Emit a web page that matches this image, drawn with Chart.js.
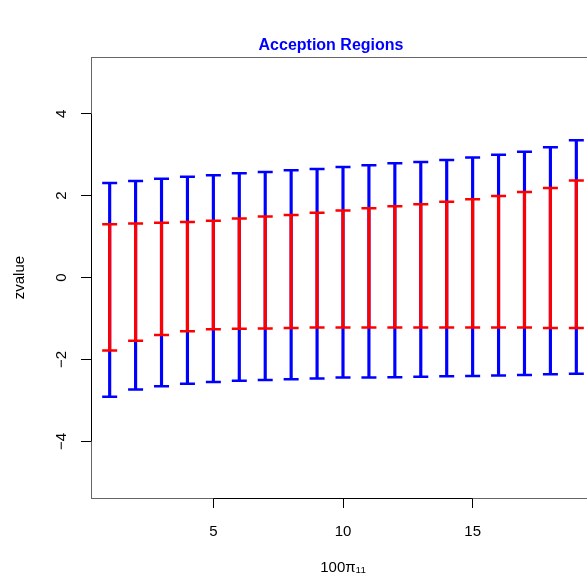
<!DOCTYPE html>
<html>
<head>
<meta charset="utf-8">
<title>Acception Regions</title>
<script src="https://cdn.jsdelivr.net/npm/chart.js@4/dist/chart.umd.min.js"></script>
<style>
    html, body { margin: 0; padding: 0; background: #fff; overflow: hidden; }
    #wrap { width: 662px; height: 585px; }
</style>
</head>
<body>
<div id="wrap"><canvas id="regionChart" width="662" height="585"></canvas></div>
<script>
// =========================
// DATA
// =========================
const xValues    = [1, 2, 3, 4, 5, 6, 7, 8, 9, 10, 11, 12, 13, 14, 15, 16, 17, 18, 19];
const blueUpper  = [2.31, 2.36, 2.41, 2.46, 2.50, 2.55, 2.58, 2.62, 2.65, 2.70, 2.74, 2.79, 2.82, 2.87, 2.93, 3.00, 3.07, 3.18, 3.35];
const blueLower  = [-2.91, -2.73, -2.65, -2.59, -2.55, -2.52, -2.50, -2.48, -2.46, -2.44, -2.44, -2.43, -2.42, -2.41, -2.40, -2.39, -2.38, -2.36, -2.35];
const redUpper   = [1.30, 1.32, 1.34, 1.36, 1.39, 1.44, 1.49, 1.53, 1.58, 1.64, 1.69, 1.74, 1.79, 1.85, 1.91, 1.99, 2.09, 2.19, 2.37];
const redLower   = [-1.78, -1.54, -1.40, -1.31, -1.26, -1.25, -1.24, -1.23, -1.22, -1.22, -1.22, -1.22, -1.22, -1.22, -1.22, -1.22, -1.22, -1.23, -1.23];

const xTicks = [5, 10, 15];
const yTicks = [-4, -2, 0, 2, 4];

const FONT = "'Liberation Sans', Arial, Helvetica, sans-serif";
const BLUE = '#0000ff';
const RED = '#ff0000';

// =========================
// DATASET BUILDERS
// =========================
function rangeBars(lo, hi, color, order) {
    return {
        type: 'bar',
        data: xValues.map((x, i) => ({ x: x, y: [lo[i], hi[i]] })),
        backgroundColor: color,
        borderWidth: 0,
        barThickness: 2.5,
        grouped: false,
        order: order
    };
}

function caps(lo, hi, color, order) {
    const pts = [];
    xValues.forEach((x, i) => {
        pts.push({ x: x, y: lo[i] });
        pts.push({ x: x, y: hi[i] });
    });
    return {
        type: 'scatter',
        data: pts,
        pointStyle: 'line',
        pointRadius: 7.5,
        pointHoverRadius: 7.5,
        borderColor: color,
        borderWidth: 2.5,
        order: order
    };
}

// frame around the plot region plus R-style axis lines between outer ticks
const framePlugin = {
    id: 'frame',
    afterDraw(chart) {
        const { ctx, chartArea: a, scales } = chart;
        ctx.save();
        ctx.lineWidth = 1;
        ctx.strokeStyle = '#666';
        ctx.strokeRect(Math.round(a.left) + 0.5, Math.round(a.top) + 0.5,
            Math.round(a.right - a.left), Math.round(a.bottom - a.top));

        ctx.strokeStyle = '#000';
        const yb = Math.round(a.bottom) + 0.5;
        ctx.beginPath();
        ctx.moveTo(scales.x.getPixelForValue(xTicks[0]), yb);
        ctx.lineTo(scales.x.getPixelForValue(xTicks[xTicks.length - 1]), yb);
        const xl = Math.round(a.left) + 0.5;
        ctx.moveTo(xl, scales.y.getPixelForValue(yTicks[0]));
        ctx.lineTo(xl, scales.y.getPixelForValue(yTicks[yTicks.length - 1]));
        ctx.stroke();
        ctx.restore();
    }
};

// =========================
// CHART
// =========================
function initChart() {
    const ctx = document.getElementById('regionChart').getContext('2d');

    new Chart(ctx, {
        type: 'bar',
        data: {
            datasets: [
                rangeBars(blueLower, blueUpper, BLUE, 4),
                caps(blueLower, blueUpper, BLUE, 3),
                rangeBars(redLower, redUpper, RED, 2),
                caps(redLower, redUpper, RED, 1)
            ]
        },
        options: {
            responsive: false,
            animation: false,
            layout: { padding: 0 },
            plugins: {
                legend: { display: false },
                tooltip: { enabled: false },
                title: {
                    display: true,
                    text: 'Acception Regions',
                    color: BLUE,
                    font: { family: FONT, size: 16, weight: 'bold' },
                    padding: { top: 36, bottom: 2 }
                }
            },
            scales: {
                x: {
                    type: 'linear',
                    min: 0.28,
                    max: 19.72,
                    offset: false,
                    grid: { display: true, drawOnChartArea: false, drawTicks: true, tickLength: 10, color: '#000', offset: false },
                    border: { display: false },
                    ticks: {
                        stepSize: 5,
                        includeBounds: false,
                        color: '#000',
                        padding: 15,
                        maxRotation: 0,
                        font: { family: FONT, size: 15 }
                    },
                    title: {
                        display: true,
                        text: '100π₁₁',
                        color: '#000',
                        font: { family: FONT, size: 15 },
                        padding: { top: 0, bottom: 8 }
                    },
                    afterFit(scale) { scale.height = 87; }
                },
                y: {
                    type: 'linear',
                    min: -5.38,
                    max: 5.38,
                    grid: { display: true, drawOnChartArea: false, drawTicks: true, tickLength: 10, color: '#000' },
                    border: { display: false },
                    ticks: {
                        stepSize: 2,
                        includeBounds: false,
                        color: '#000',
                        padding: 11,
                        minRotation: 90,
                        maxRotation: 90,
                        crossAlign: 'center',
                        font: { family: FONT, size: 15 },
                        callback: v => String(v).replace('-', '\u2212')
                    },
                    title: {
                        display: true,
                        text: 'zvalue',
                        color: '#000',
                        font: { family: FONT, size: 15 },
                        padding: { top: 11, bottom: 0 }
                    },
                    afterFit(scale) { scale.width = 91; }
                },
                // empty right margin so the plot region ends where the figure's right margin starts
                yMargin: {
                    type: 'linear',
                    position: 'right',
                    display: true,
                    grid: { display: false },
                    border: { display: false },
                    ticks: { display: false },
                    afterFit(scale) { scale.width = 67; }
                }
            }
        },
        plugins: [framePlugin]
    });
}

initChart();
</script>
</body>
</html>
